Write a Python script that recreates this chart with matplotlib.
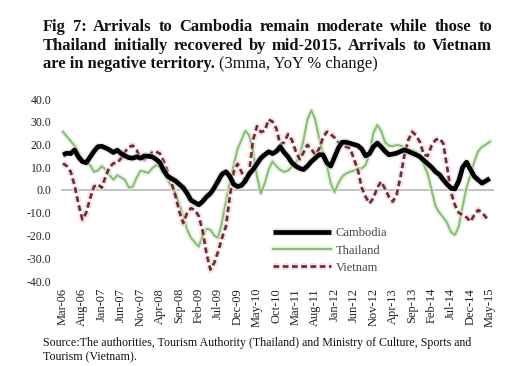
import matplotlib
matplotlib.use("Agg")
import matplotlib.pyplot as plt
import matplotlib.patheffects as pe
import numpy as np

months = ["Mar-06", "Aug-06", "Jan-07", "Jun-07", "Nov-07", "Apr-08", "Sep-08", "Feb-09",
          "Jul-09", "Dec-09", "May-10", "Oct-10", "Mar-11", "Aug-11", "Jan-12", "Jun-12",
          "Nov-12", "Apr-13", "Sep-13", "Feb-14", "Jul-14", "Dec-14", "May-15"]

cambodia = [15.4, 16.2, 16.0, 17.6, 14.5, 12.5, 12.0, 14.5, 17.0, 19.0,
            19.2, 18.5, 17.6, 16.5, 17.5, 16.0, 15.0, 14.2, 14.0, 14.6,
            14.0, 15.0, 14.8, 14.6, 13.5, 12.0, 8.5, 6.0, 5.0, 4.0,
            2.5, 1.0, -1.5, -4.5, -5.5, -6.5, -5.0, -3.0, -1.5, 1.0,
            4.0, 7.0, 8.0, 6.0, 2.5, 1.5, 2.0, 4.0, 7.0, 9.0,
            11.5, 14.0, 15.5, 16.8, 16.0, 17.0, 19.0, 16.5, 14.6, 12.0,
            10.5, 9.5, 9.0, 10.5, 12.5, 14.0, 15.5, 15.5, 12.0, 10.5,
            14.5, 18.5, 21.0, 21.0, 20.5, 20.0, 19.5, 18.0, 15.0, 16.0,
            19.0, 20.6, 19.0, 17.0, 15.5, 15.8, 16.2, 17.0, 17.6, 17.0,
            16.2, 15.5, 14.6, 13.0, 11.5, 10.0, 8.0, 6.8, 4.5, 2.5,
            0.8, 0.5, 4.0, 10.0, 12.2, 9.0, 6.0, 4.4, 3.0, 4.0,
            5.1]

thailand = [25.6, 23.5, 21.5, 19.5, 16.5, 13.5, 12.0, 11.0, 8.0, 8.5,
            10.5, 9.0, 6.5, 4.5, 6.5, 5.5, 4.4, 1.0, 1.5, 5.5,
            8.5, 8.0, 7.5, 9.5, 11.0, 10.0, 7.5, 4.5, 1.5, -1.5,
            -6.5, -11.0, -17.5, -21.0, -23.0, -24.9, -20.0, -17.0, -17.5, -20.0,
            -21.0, -14.0, -5.0, 3.7, 11.0, 18.0, 22.0, 26.0, 24.0, 16.8,
            6.0, -1.5, 3.0, 9.0, 12.5, 10.5, 8.8, 8.0, 8.5, 10.3,
            12.0, 15.0, 22.0, 31.0, 35.0, 31.0, 23.0, 16.0, 11.0, 3.0,
            -1.0, 3.0, 6.0, 7.3, 8.0, 8.5, 9.5, 9.5, 11.0, 16.0,
            25.0, 28.6, 26.0, 21.0, 19.5, 19.3, 19.8, 19.5, 18.5, 18.0,
            17.5, 16.8, 15.0, 11.0, 7.0, 0.0, -7.0, -10.0, -12.0, -14.5,
            -18.5, -19.8, -16.0, -7.0, 1.0, 6.5, 12.5, 17.0, 19.0, 20.0,
            21.2]

vietnam = [11.7, 10.5, 8.0, 2.0, -6.0, -13.0, -10.0, -3.7, 1.5, 2.5,
           1.0, 6.0, 10.0, 11.7, 12.0, 14.0, 16.8, 19.0, 19.5, 17.5,
           14.0, 13.5, 15.0, 16.5, 16.8, 16.0, 12.5, 8.0, 3.0, -2.5,
           -9.5, -14.6, -10.0, -8.0, -8.8, -11.5, -18.0, -28.0, -35.0, -32.0,
           -27.0, -21.0, -16.0, -3.0, 8.0, 11.5, 8.0, 4.0, 8.0, 22.0,
           28.0, 25.5, 26.0, 31.0, 30.0, 27.0, 20.0, 21.0, 24.5, 22.0,
           17.0, 13.5, 16.5, 19.8, 18.0, 15.5, 18.0, 23.0, 25.6, 24.5,
           23.0, 21.0, 19.5, 19.0, 18.3, 13.5, 8.8, 1.0, -3.0, -5.9,
           -3.5, 1.0, 3.7, 0.5, -3.0, -5.1, -2.0, 6.0, 15.4, 22.0,
           25.6, 24.0, 21.0, 15.5, 15.0, 19.5, 22.0, 22.7, 20.5, 10.0,
           -1.0, -6.6, -10.0, -11.0, -12.0, -13.9, -11.0, -8.8, -10.0, -12.0,
           -13.2]

yticks = [40, 30, 20, 10, 0, -10, -20, -30, -40]

SERIF = ["Liberation Serif", "DejaVu Serif"]

fig = plt.figure(figsize=(5.16, 3.66), dpi=100)
fig.patch.set_facecolor("white")
W, H = 516, 366

ax = fig.add_axes([61 / W, 85 / H, (493.7 - 61) / W, 182 / H])
ax.set_facecolor("white")
x = np.arange(len(cambodia))

ax.axhline(0, color="#bdbdbd", lw=1.3, zorder=1)

ax.plot(x, vietnam, color="#6e2a35", lw=1.9, ls=(0, (2.2, 1.3)), zorder=3,
        label="Vietnam",
        path_effects=[pe.Stroke(linewidth=5, foreground="#f7d3d6", alpha=0.7), pe.Normal()])
ax.plot(x, thailand, color="#86c070", lw=1.5, zorder=2, label="Thailand",
        path_effects=[pe.Stroke(linewidth=4, foreground="#dcefd5", alpha=0.6), pe.Normal()])
ax.plot(x, cambodia, color="black", lw=3.4, zorder=4, label="Cambodia",
        solid_capstyle="butt",
        path_effects=[pe.Stroke(linewidth=5.5, foreground="#d8d8d8", alpha=0.5), pe.Normal()])

ax.set_xlim(-0.5, 111)
ax.set_ylim(-40, 40)
for s in ax.spines.values():
    s.set_visible(False)
ax.set_yticks(yticks)
ax.set_yticklabels([f"{v:.1f}" for v in yticks], fontfamily=SERIF, fontsize=8.5, color="#222222")
ax.set_xticks(np.arange(0, len(cambodia), 5))
ax.set_xticklabels(months, rotation=90, fontfamily=SERIF, fontsize=9, color="#222222")
ax.tick_params(axis="both", length=0)
ax.tick_params(axis="y", pad=7)
ax.tick_params(axis="x", pad=5)

handles, labels = ax.get_legend_handles_labels()
order = [2, 1, 0]
leg = ax.legend([handles[i] for i in order], [labels[i] for i in order],
                loc="upper left", bbox_to_anchor=(262 / W, (366 - 216) / H),
                bbox_transform=fig.transFigure, frameon=False,
                handlelength=4.6, labelspacing=0.42, handletextpad=0.4,
                prop={"family": SERIF, "size": 9})
for t in leg.get_texts():
    t.set_color("#444444")

# Title (justified lines)
fig.canvas.draw()
renderer = fig.canvas.get_renderer()
left_px, right_px = 43, 492
tsize = 11.9

def justified(line, ypx, bold=True):
    words = line.split(" ")
    arts = []
    widths = []
    for w in words:
        t = fig.text(0, 1 - ypx / H, w, fontfamily=SERIF, fontsize=tsize,
                     fontweight="bold" if bold else "normal", va="baseline", ha="left",
                     color="#111111")
        arts.append(t)
        widths.append(t.get_window_extent(renderer).width)
    gap = (right_px - left_px - sum(widths)) / (len(words) - 1)
    xp = left_px
    for t, wd in zip(arts, widths):
        t.set_x(xp / W)
        xp += wd + gap

justified("Fig 7: Arrivals to Cambodia remain moderate while those to", 31)
justified("Thailand initially recovered by mid-2015. Arrivals to Vietnam", 49.5)
t1 = fig.text(left_px / W, 1 - 68 / H, "are in negative territory.", fontfamily=SERIF,
              fontsize=tsize, fontweight="bold", va="baseline", ha="left", color="#111111")
wb = t1.get_window_extent(renderer).width
fig.text((left_px + wb + 4) / W, 1 - 68 / H, "(3mma, YoY % change)", fontfamily=SERIF,
         fontsize=tsize, va="baseline", ha="left", color="#111111")

fig.text(43 / W, 1 - 346 / H, "Source:The authorities, Tourism Authority (Thailand) and Ministry of Culture, Sports and",
         fontfamily=SERIF, fontsize=8.6, va="baseline", ha="left", color="#111111")
fig.text(43 / W, 1 - 360 / H, "Tourism (Vietnam).",
         fontfamily=SERIF, fontsize=8.6, va="baseline", ha="left", color="#111111")

fig.savefig("out.png", dpi=100, facecolor="white")
